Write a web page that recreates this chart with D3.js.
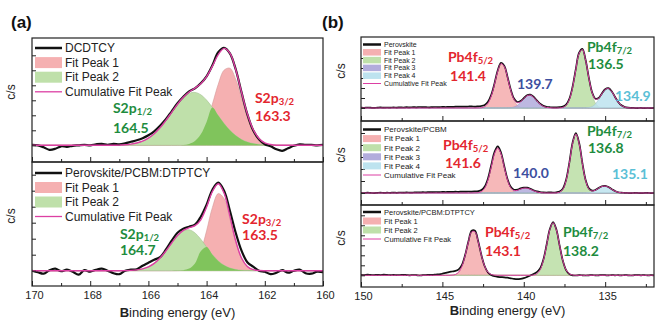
<!DOCTYPE html>
<html>
<head>
<meta charset="utf-8">
<script src="https://cdn.jsdelivr.net/npm/d3@7"></script>
<style>
  body { margin: 0; background: #fff; }
  svg { display: block; font-family: "Liberation Sans", Arial, sans-serif; }
</style>
</head>
<body>
<svg id="chart" width="666" height="332"></svg>
<script>
// binding energy grids (eV), read every 0.2 eV
const sEnergy = d3.range(51).map(i => +(170 - i * 0.2).toFixed(1));
const pbEnergy = d3.range(91).map(i => +(150 - i * 0.2).toFixed(1));

// (a) top: DCDTCY, S2p region (170 -> 160 eV)
const dcdtcyData = [
  0.5, 0, -2, -4.5, -3.5, -1, -1.5, -0.5, 0, 0.5,
  0, 1, 1.5, 0.5, 1.5, 1, 2, 3.5, 5, 7,
  10, 14, 19.5, 26, 34, 42, 48.5, 54, 57, 62,
  69, 80, 93, 97.5, 92, 76, 53, 31, 15, 6,
  1, -1, -4, -5.5, -3, -0.5, 1, 0.5, 0.5, 0,
  0.5];
const dcdtcyPeak1 = [
  0, 0, 0, 0, 0, 0, 0, 0, 0, 0,
  0, 0, 0, 0, 0, 0, 0, 0, 0, 0,
  0, 0, 0, 0, 0, 0.1, 0.4, 1.4, 4.3, 11.0,
  23.4, 41.3, 61.0, 75.1, 77.1, 66.1, 47.3, 28.2, 14.1, 5.9,
  2.0, 0.6, 0.1, 0, 0, 0, 0, 0, 0, 0,
  0];
const dcdtcyPeak2 = [
  0, 0, 0, 0, 0, 0, 0, 0, 0, 0,
  0, 0, 0, 0, 0, 0.2, 0.5, 1.2, 2.3, 4.1,
  7.2, 11.6, 17.5, 24.9, 33.0, 41.0, 47.6, 51.9, 52.9, 50.6,
  45.2, 37.8, 29.7, 21.8, 15.0, 9.7, 5.8, 3.3, 1.7, 0.9,
  0.4, 0.2, 0, 0, 0, 0, 0, 0, 0, 0,
  0];

// (a) bottom: Perovskite/PCBM:DTPTCY, S2p region
const dtptcyS2pData = [
  0, -1.5, -3, 0.5, 2, -0.5, 1, -1, -4, 0.5,
  -1, 1, 2, 0, -2.5, -3.5, 0, 1, 1.5, 5,
  8, 11, 13.5, 21, 30, 38, 42, 44, 46, 54,
  66, 81, 88, 80, 60, 38, 20, 8.5, 4, 0,
  -1, -3.5, -2, 0.5, -2, 0, 1, -2.5, -3, -1,
  -1.5];
const dtptcyS2pPeak1 = [
  0, 0, 0, 0, 0, 0, 0, 0, 0, 0,
  0, 0, 0, 0, 0, 0, 0, 0, 0, 0,
  0, 0, 0, 0, 0, 0.1, 0.5, 2.1, 7.2, 19.4,
  39.9, 63.2, 77.1, 72.2, 51.9, 28.7, 12.2, 4.0, 1.0, 0.2,
  0, 0, 0, 0, 0, 0, 0, 0, 0, 0,
  0];
const dtptcyS2pPeak2 = [
  0, 0, 0, 0, 0, 0, 0, 0, 0, 0,
  0, 0, 0, 0, 0, 0, 0.1, 0.3, 0.8, 1.8,
  3.8, 7.3, 12.7, 19.7, 27.7, 35.0, 39.8, 40.9, 37.8, 31.5,
  23.7, 16.0, 9.8, 5.4, 2.7, 1.2, 0.5, 0.2, 0, 0,
  0, 0, 0, 0, 0, 0, 0, 0, 0, 0,
  0];

// (b) top: Perovskite, Pb4f region (150 -> 132 eV)
const perovskiteData = [
  0.3, 0.2, 0.5, 0.3, 0.1, 0.4, 0.6, 0.3, 0.5, 0.4,
  0.6, 0.4, 0.7, 0.5, 0.8, 0.6, 0.9, 0.7, 1.0, 0.8,
  0.8, 0.7, 0.9, 1.0, 0.9, 1.1, 1.0, 1.2, 1.1, 1.3,
  1.3, 1.4, 1.3, 1.5, 1.6, 1.4, 1.7, 2.0, 3.0, 6.2,
  13.2, 24.6, 37.8, 45.2, 42.4, 31.3, 18.5, 9.5, 6.0, 6.9,
  9.9, 12.8, 13.3, 11.3, 7.7, 4.3, 2.2, 1.1, 0.8, 0.6,
  0.7, 0.9, 1.4, 3.3, 9.2, 21.5, 39.4, 55.4, 59.2, 48.0,
  30.2, 15.6, 9.3, 10.0, 14.6, 18.8, 19.9, 16.8, 11.3, 6.1,
  2.7, 1.0, 0.3, 0.1, 0, -0.1, 0.1, -0.2, 0, -0.1,
  0.1];
const perovskitePeak1 = [
  0, 0, 0, 0, 0, 0, 0, 0, 0, 0,
  0, 0, 0, 0, 0, 0, 0, 0, 0, 0,
  0, 0, 0, 0, 0, 0, 0, 0, 0, 0,
  0, 0, 0, 0, 0, 0, 0.1, 0.3, 1.4, 4.7,
  11.9, 23.7, 36.8, 44.3, 41.7, 30.5, 17.4, 7.7, 2.7, 0.7,
  0.2, 0, 0, 0, 0, 0, 0, 0, 0, 0,
  0, 0, 0, 0, 0, 0, 0, 0, 0, 0,
  0, 0, 0, 0, 0, 0, 0, 0, 0, 0,
  0, 0, 0, 0, 0, 0, 0, 0, 0, 0,
  0];
const perovskitePeak2 = [
  0, 0, 0, 0, 0, 0, 0, 0, 0, 0,
  0, 0, 0, 0, 0, 0, 0, 0, 0, 0,
  0, 0, 0, 0, 0, 0, 0, 0, 0, 0,
  0, 0, 0, 0, 0, 0, 0, 0, 0, 0,
  0, 0, 0, 0, 0, 0, 0, 0, 0, 0,
  0, 0, 0, 0, 0, 0, 0, 0, 0, 0,
  0, 0.1, 0.6, 2.6, 8.4, 20.7, 38.6, 54.6, 58.5, 47.5,
  29.3, 13.7, 4.8, 1.3, 0.3, 0, 0, 0, 0, 0,
  0, 0, 0, 0, 0, 0, 0, 0, 0, 0,
  0];
const perovskitePeak3 = [
  0, 0, 0, 0, 0, 0, 0, 0, 0, 0,
  0, 0, 0, 0, 0, 0, 0, 0, 0, 0,
  0, 0, 0, 0, 0, 0, 0, 0, 0, 0,
  0, 0, 0, 0, 0, 0, 0, 0, 0, 0,
  0, 0, 0, 0, 0, 0.1, 0.3, 1.0, 2.6, 5.5,
  9.2, 12.2, 12.9, 10.9, 7.3, 3.9, 1.7, 0.6, 0.2, 0,
  0, 0, 0, 0, 0, 0, 0, 0, 0, 0,
  0, 0, 0, 0, 0, 0, 0, 0, 0, 0,
  0, 0, 0, 0, 0, 0, 0, 0, 0, 0,
  0];
const perovskitePeak4 = [
  0, 0, 0, 0, 0, 0, 0, 0, 0, 0,
  0, 0, 0, 0, 0, 0, 0, 0, 0, 0,
  0, 0, 0, 0, 0, 0, 0, 0, 0, 0,
  0, 0, 0, 0, 0, 0, 0, 0, 0, 0,
  0, 0, 0, 0, 0, 0, 0, 0, 0, 0,
  0, 0, 0, 0, 0, 0, 0, 0, 0, 0,
  0, 0, 0, 0, 0, 0, 0, 0, 0, 0.1,
  0.5, 1.5, 4.0, 8.4, 13.9, 18.5, 19.6, 16.5, 11.1, 5.9,
  2.5, 0.9, 0.2, 0, 0, 0, 0, 0, 0, 0,
  0];

// (b) middle: Perovskite/PCBM
const pcbmData = [
  0.2, 0, 0.3, 0.1, -0.1, 0.2, 0.4, 0.1, 0.3, 0.2,
  0.4, 0.2, 0.5, 0.3, 0.6, 0.4, 0.5, 0.7, 0.6, 0.8,
  0.7, 0.9, 0.8, 1.0, 0.9, 1.1, 1.0, 1.2, 1.1, 1.3,
  1.2, 1.4, 1.3, 1.5, 1.4, 1.6, 1.9, 3.0, 6.5, 14.6,
  27.8, 41.0, 46.6, 40.5, 27.0, 14.0, 6.2, 3.3, 3.3, 4.6,
  5.4, 5.4, 4.3, 2.8, 1.6, 0.9, 0.6, 0.5, 0.6, 0.5,
  0.7, 1.4, 4.4, 13.2, 30.4, 50.5, 59.8, 50.3, 30.1, 13.0,
  4.6, 2.4, 3.1, 5.1, 6.8, 7.1, 6.0, 3.9, 2.0, 0.8,
  0.3, 0.2, 0, -0.1, 0.1, 0, -0.2, 0, 0.1, -0.1,
  0];
const pcbmPeak1 = [
  0, 0, 0, 0, 0, 0, 0, 0, 0, 0,
  0, 0, 0, 0, 0, 0, 0, 0, 0, 0,
  0, 0, 0, 0, 0, 0, 0, 0, 0, 0,
  0, 0, 0, 0, 0, 0.1, 0.3, 1.4, 4.9, 12.9,
  25.9, 39.2, 45.0, 39.2, 25.9, 12.9, 4.9, 1.4, 0.3, 0.1,
  0, 0, 0, 0, 0, 0, 0, 0, 0, 0,
  0, 0, 0, 0, 0, 0, 0, 0, 0, 0,
  0, 0, 0, 0, 0, 0, 0, 0, 0, 0,
  0, 0, 0, 0, 0, 0, 0, 0, 0, 0,
  0];
const pcbmPeak2 = [
  0, 0, 0, 0, 0, 0, 0, 0, 0, 0,
  0, 0, 0, 0, 0, 0, 0, 0, 0, 0,
  0, 0, 0, 0, 0, 0, 0, 0, 0, 0,
  0, 0, 0, 0, 0, 0, 0, 0, 0, 0,
  0, 0, 0, 0, 0, 0, 0, 0, 0, 0,
  0, 0, 0, 0, 0, 0, 0, 0, 0, 0,
  0.1, 0.8, 3.7, 12.4, 29.5, 49.6, 59.0, 49.6, 29.5, 12.4,
  3.7, 0.8, 0.1, 0, 0, 0, 0, 0, 0, 0,
  0, 0, 0, 0, 0, 0, 0, 0, 0, 0,
  0];
const pcbmPeak3 = [
  0, 0, 0, 0, 0, 0, 0, 0, 0, 0,
  0, 0, 0, 0, 0, 0, 0, 0, 0, 0,
  0, 0, 0, 0, 0, 0, 0, 0, 0, 0,
  0, 0, 0, 0, 0, 0, 0, 0, 0, 0,
  0, 0, 0, 0, 0, 0.1, 0.4, 1.1, 2.3, 3.8,
  4.8, 4.8, 3.8, 2.3, 1.1, 0.4, 0.1, 0, 0, 0,
  0, 0, 0, 0, 0, 0, 0, 0, 0, 0,
  0, 0, 0, 0, 0, 0, 0, 0, 0, 0,
  0, 0, 0, 0, 0, 0, 0, 0, 0, 0,
  0];
const pcbmPeak4 = [
  0, 0, 0, 0, 0, 0, 0, 0, 0, 0,
  0, 0, 0, 0, 0, 0, 0, 0, 0, 0,
  0, 0, 0, 0, 0, 0, 0, 0, 0, 0,
  0, 0, 0, 0, 0, 0, 0, 0, 0, 0,
  0, 0, 0, 0, 0, 0, 0, 0, 0, 0,
  0, 0, 0, 0, 0, 0, 0, 0, 0, 0,
  0, 0, 0, 0, 0, 0, 0, 0, 0, 0.1,
  0.4, 1.2, 2.7, 4.8, 6.5, 6.9, 5.8, 3.7, 1.9, 0.7,
  0.2, 0.1, 0, 0, 0, 0, 0, 0, 0, 0,
  0];

// (b) bottom: Perovskite/PCBM:DTPTCY
const dtptcyPbData = [
  0.5, 0.3, 0.6, 0.4, 0.2, 0.5, 0.3, 0.6, 0.4, 0.2,
  0.4, 0.1, 0.3, 0.5, 0.2, 0, 0.3, 0.1, -0.2, 0.1,
  0.3, 0.5, 0.4, 0.8, 1.0, 1.6, 2.4, 3.2, 3.8, 4.4,
  6.0, 10.5, 20.5, 34.0, 44.5, 44.5, 34.0, 20.0, 9.0, 2.8,
  0.2, -1.0, -1.6, -1.8, -2.0, -2.4, -3.0, -3.6, -3.9, -3.6,
  -2.8, -1.6, -0.2, 1.4, 3.2, 6.8, 15.5, 30.5, 46.2, 53.2,
  46.0, 30.0, 14.6, 5.2, 1.2, 0, -0.2, 0.1, 0, -0.2,
  0, 0.2, -0.1, 0, 0.3, 0.1, -0.1, 0.2, 0, 0.1,
  -0.1, 0.2, 0, -0.2, 0.1, 0.3, 0, 0.2, -0.1, 0.1,
  0];
const dtptcyPbPeak1 = [
  0, 0, 0, 0, 0, 0, 0, 0, 0, 0,
  0, 0, 0, 0, 0, 0, 0, 0, 0, 0,
  0, 0, 0, 0, 0, 0, 0, 0, 0.2, 0.8,
  3.1, 9.0, 19.8, 33.5, 43.5, 43.5, 33.5, 19.8, 9.0, 3.1,
  0.8, 0.2, 0, 0, 0, 0, 0, 0, 0, 0,
  0, 0, 0, 0, 0, 0, 0, 0, 0, 0,
  0, 0, 0, 0, 0, 0, 0, 0, 0, 0,
  0, 0, 0, 0, 0, 0, 0, 0, 0, 0,
  0, 0, 0, 0, 0, 0, 0, 0, 0, 0,
  0];
const dtptcyPbPeak2 = [
  0, 0, 0, 0, 0, 0, 0, 0, 0, 0,
  0, 0, 0, 0, 0, 0, 0, 0, 0, 0,
  0, 0, 0, 0, 0, 0, 0, 0, 0, 0,
  0, 0, 0, 0, 0, 0, 0, 0, 0, 0,
  0, 0, 0, 0, 0, 0, 0, 0, 0, 0,
  0, 0, 0, 0.3, 1.5, 5.4, 14.6, 29.8, 45.6, 52.6,
  45.6, 29.8, 14.6, 5.4, 1.5, 0.3, 0, 0, 0, 0,
  0, 0, 0, 0, 0, 0, 0, 0, 0, 0,
  0, 0, 0, 0, 0, 0, 0, 0, 0, 0,
  0];

// axis ticks
const sMajorTicks = [170, 168, 166, 164, 162, 160];
const sMinorTicks = [169, 167, 165, 163, 161];
const pbMajorTicks = [150, 145, 140, 135];
const pbMinorTicks = [147.5, 142.5, 137.5, 132.5];

// legend texts
const legendDcdtcy = ["DCDTCY", "Fit Peak 1", "Fit Peak 2", "Cumulative Fit Peak"];
const legendDtptcyS = ["Perovskite/PCBM:DTPTCY", "Fit Peak 1", "Fit Peak 2", "Cumulative Fit Peak"];
const legendPerovskite = ["Perovskite", "Fit Peak 1", "Fit Peak 2", "Fit Peak 3", "Fit Peak 4", "Cumulative Fit Peak"];
const legendPcbm = ["Perovskite/PCBM", "Fit Peak 1", "Fit Peak 2", "Fit Peak 3", "Fit Peak 4", "Cumulative Fit Peak"];
const legendDtptcyPb = ["Perovskite/PCBM:DTPTCY", "Fit Peak 1", "Fit Peak 2", "Cumulative Fit Peak"];

// colours
const RED = "#e3262e", GREEN = "#1e8c3e", BLUE = "#3d4f9f", CYAN = "#5bbfd6";
const fillRed = "#f5b0b1", fillGreen = "#bfe0aa", fillPurple = "#b2acdc", fillCyan = "#bde3ef";
const overlapGreen = "#80c45c";
const PINK = "#dc3fa3";

const svg = d3.select("#chart");
const defs = svg.append("defs");

const leftX = d3.scaleLinear().domain([170, 160]).range([32, 323]);
const rightX = d3.scaleLinear().domain([150, 132]).range([361, 654]);

function drawPanel(p) {
  const x = p.x;
  const y = d3.scaleLinear().domain(p.yDomain).range([p.y1, p.y0]);
  const [x0, x1] = x.range();
  const g = svg.append("g");

  defs.append("clipPath").attr("id", "clip-" + p.id)
    .append("rect")
    .attr("x", x0).attr("y", p.y0)
    .attr("width", x1 - x0).attr("height", p.y1 - p.y0);

  const plot = g.append("g").attr("clip-path", `url(#clip-${p.id})`);

  const areaGen = d3.area()
    .x((d, i) => x(p.energy[i]))
    .y0(y(0))
    .y1(d => y(d))
    .curve(d3.curveCatmullRom);
  const lineGen = d3.line()
    .x((d, i) => x(p.energy[i]))
    .y(d => y(d))
    .curve(d3.curveCatmullRom);

  p.peaks.forEach(pk => {
    plot.append("path")
      .datum(pk.values)
      .attr("d", areaGen)
      .attr("fill", pk.fill)
      .attr("fill-opacity", pk.opacity || 1)
      .attr("stroke", d3.color(pk.fill).darker(0.4))
      .attr("stroke-width", 0.6);
  });

  // overlapping part of the two S2p components
  if (p.overlap) {
    const ov = p.energy.map((e, i) => Math.min(p.peaks[0].values[i], p.peaks[1].values[i]));
    plot.append("path").datum(ov)
      .attr("d", areaGen)
      .attr("fill", p.overlap);
  }

  // cumulative fit = sum of the fitted components
  const cumulative = p.energy.map((e, i) => d3.sum(p.peaks, pk => pk.values[i]));

  plot.append("path").datum(p.data)
    .attr("d", lineGen)
    .attr("fill", "none")
    .attr("stroke", "#111")
    .attr("stroke-width", p.dataWidth);

  plot.append("path").datum(cumulative)
    .attr("d", lineGen)
    .attr("fill", "none")
    .attr("stroke", PINK)
    .attr("stroke-width", p.fitWidth);

  // ticks, pointing inward
  g.append("g").attr("transform", `translate(0,${p.y1})`)
    .call(d3.axisTop(x).tickValues(p.majorTicks).tickSize(5).tickFormat(""))
    .call(a => a.select(".domain").remove());
  g.append("g").attr("transform", `translate(0,${p.y1})`)
    .call(d3.axisTop(x).tickValues(p.minorTicks).tickSize(3).tickFormat(""))
    .call(a => a.select(".domain").remove());
  g.append("g").attr("transform", `translate(${x0},0)`)
    .call(d3.axisRight(y).tickValues(p.yTicks).tickSize(4).tickFormat(""))
    .call(a => a.select(".domain").remove());
  g.selectAll(".tick line").attr("stroke", "#222");

  g.append("rect")
    .attr("x", x0).attr("y", p.y0)
    .attr("width", x1 - x0).attr("height", p.y1 - p.y0)
    .attr("fill", "none")
    .attr("stroke", "#222")
    .attr("stroke-width", 1.2);

  if (p.tickLabels) {
    g.append("g").attr("transform", `translate(0,${p.y1})`)
      .call(d3.axisBottom(x).tickValues(p.majorTicks).tickSize(0).tickPadding(5))
      .call(a => a.select(".domain").remove())
      .call(a => a.selectAll("text")
        .attr("font-family", "Liberation Sans, Arial, sans-serif")
        .attr("font-size", 11)
        .attr("fill", "#222")
        .attr("dx", 2));
  }

  // c/s label
  g.append("text")
    .attr("transform", `translate(${p.yLabelX},${(p.y0 + p.y1) / 2 - 8}) rotate(-90)`)
    .attr("text-anchor", "middle")
    .attr("font-size", 12)
    .attr("fill", "#222")
    .text("c/s");

  // legend
  const L = p.legend;
  const lg = g.append("g");
  L.labels.forEach((label, i) => {
    const cy = p.y0 + L.first + i * L.rowH;
    const item = L.items[i];
    if (item.type === "line") {
      lg.append("line")
        .attr("x1", L.x).attr("x2", L.x + L.w)
        .attr("y1", cy).attr("y2", cy)
        .attr("stroke", item.color)
        .attr("stroke-width", item.width);
    } else {
      lg.append("rect")
        .attr("x", L.x).attr("y", cy - L.h / 2)
        .attr("width", L.w).attr("height", L.h)
        .attr("fill", item.fill);
    }
    lg.append("text")
      .attr("x", L.x + L.w + 3)
      .attr("y", cy)
      .attr("dy", "0.35em")
      .attr("font-size", L.fontSize)
      .attr("fill", "#222")
      .text(label);
  });

  // peak annotations
  p.notes.forEach(n => {
    const t = g.append("text")
      .attr("x", x(n.e)).attr("y", y(n.v))
      .attr("fill", n.color)
      .attr("font-family", "Lato, 'Open Sans', sans-serif")
      .attr("font-weight", "bold")
      .attr("font-size", 14)
      .text(n.text);
    if (n.sub) t.append("tspan").attr("font-size", 9.5).attr("dy", 2).text(n.sub);
  });
}

const sLegendItems = [
  { type: "line", color: "#111", width: 2.5 },
  { type: "rect", fill: fillRed },
  { type: "rect", fill: fillGreen },
  { type: "line", color: PINK, width: 1.3 }
];
const pbLegendItems4 = [
  { type: "line", color: "#111", width: 2.5 },
  { type: "rect", fill: fillRed },
  { type: "rect", fill: fillGreen },
  { type: "rect", fill: fillPurple },
  { type: "rect", fill: fillCyan },
  { type: "line", color: PINK, width: 1 }
];
const pbLegendItems2 = [
  { type: "line", color: "#111", width: 2.5 },
  { type: "rect", fill: fillRed },
  { type: "rect", fill: fillGreen },
  { type: "line", color: PINK, width: 1 }
];

// (a) S2p panels
drawPanel({
  id: "a1", x: leftX, energy: sEnergy, y0: 38, y1: 162, yDomain: [-16.7, 107.3],
  data: dcdtcyData, dataWidth: 2.2, fitWidth: 1.4,
  peaks: [{ values: dcdtcyPeak1, fill: fillRed }, { values: dcdtcyPeak2, fill: fillGreen }],
  overlap: overlapGreen,
  majorTicks: sMajorTicks, minorTicks: sMinorTicks, yTicks: d3.range(0, 91, 15),
  yLabelX: 15,
  legend: { x: 35, w: 27, h: 11, first: 10, rowH: 14.6, fontSize: 12, labels: legendDcdtcy, items: sLegendItems },
  notes: [
    { e: 167.22, v: 32.3, text: "S2p", sub: "1/2", color: GREEN },
    { e: 167.22, v: 12.3, text: "164.5", color: GREEN },
    { e: 162.34, v: 42, text: "S2p", sub: "3/2", color: RED },
    { e: 162.34, v: 24.3, text: "163.3", color: RED }
  ]
});
drawPanel({
  id: "a2", x: leftX, energy: sEnergy, y0: 162, y1: 286, yDomain: [-15.3, 108.7],
  data: dtptcyS2pData, dataWidth: 2.2, fitWidth: 1.4,
  peaks: [{ values: dtptcyS2pPeak1, fill: fillRed }, { values: dtptcyS2pPeak2, fill: fillGreen }],
  overlap: overlapGreen,
  majorTicks: sMajorTicks, minorTicks: sMinorTicks, yTicks: d3.range(0, 97, 16),
  tickLabels: true, yLabelX: 15,
  legend: { x: 35, w: 27, h: 11, first: 11, rowH: 14.5, fontSize: 12, labels: legendDtptcyS, items: sLegendItems },
  notes: [
    { e: 166.98, v: 32, text: "S2p", sub: "1/2", color: GREEN },
    { e: 166.98, v: 15.5, text: "164.7", color: GREEN },
    { e: 162.78, v: 47, text: "S2p", sub: "3/2", color: RED },
    { e: 162.78, v: 30.5, text: "163.5", color: RED }
  ]
});

// (b) Pb4f panels
drawPanel({
  id: "b1", x: rightX, energy: pbEnergy, y0: 37, y1: 121, yDomain: [-13, 71],
  data: perovskiteData, dataWidth: 1.7, fitWidth: 1,
  peaks: [
    { values: perovskitePeak1, fill: fillRed, opacity: 0.9 },
    { values: perovskitePeak2, fill: fillGreen, opacity: 0.9 },
    { values: perovskitePeak3, fill: fillPurple, opacity: 0.85 },
    { values: perovskitePeak4, fill: fillCyan, opacity: 0.85 }
  ],
  majorTicks: pbMajorTicks, minorTicks: pbMinorTicks, yTicks: d3.range(0, 51, 10),
  yLabelX: 345,
  legend: { x: 363, w: 18, h: 6.5, first: 7.5, rowH: 7.8, fontSize: 7, labels: legendPerovskite, items: pbLegendItems4 },
  notes: [
    { e: 144.66, v: 46.2, text: "Pb4f", sub: "5/2", color: RED },
    { e: 144.53, v: 27, text: "141.4", color: RED },
    { e: 140.42, v: 19, text: "139.7", color: BLUE },
    { e: 136.12, v: 56.2, text: "Pb4f", sub: "7/2", color: GREEN },
    { e: 136.06, v: 38.7, text: "136.5", color: GREEN },
    { e: 134.4, v: 7.3, text: "134.9", color: CYAN }
  ]
});
drawPanel({
  id: "b2", x: rightX, energy: pbEnergy, y0: 121, y1: 205, yDomain: [-12, 72],
  data: pcbmData, dataWidth: 1.7, fitWidth: 1,
  peaks: [
    { values: pcbmPeak1, fill: fillRed, opacity: 0.9 },
    { values: pcbmPeak2, fill: fillGreen, opacity: 0.9 },
    { values: pcbmPeak3, fill: fillPurple, opacity: 0.85 },
    { values: pcbmPeak4, fill: fillCyan, opacity: 0.85 }
  ],
  majorTicks: pbMajorTicks, minorTicks: pbMinorTicks, yTicks: d3.range(0, 61, 12),
  yLabelX: 345,
  legend: { x: 363, w: 18, h: 7, first: 8.5, rowH: 9.1, fontSize: 8, labels: legendPcbm, items: pbLegendItems4 },
  notes: [
    { e: 144.96, v: 42.7, text: "Pb4f", sub: "5/2", color: RED },
    { e: 144.84, v: 25.2, text: "141.6", color: RED },
    { e: 140.66, v: 15, text: "140.0", color: BLUE },
    { e: 136.12, v: 57.2, text: "Pb4f", sub: "7/2", color: GREEN },
    { e: 136.06, v: 39.7, text: "136.8", color: GREEN },
    { e: 134.58, v: 14.3, text: "135.1", color: CYAN }
  ]
});
drawPanel({
  id: "b3", x: rightX, energy: pbEnergy, y0: 205, y1: 287, yDomain: [-11.7, 70.3],
  data: dtptcyPbData, dataWidth: 1.7, fitWidth: 1,
  peaks: [
    { values: dtptcyPbPeak1, fill: fillRed, opacity: 0.9 },
    { values: dtptcyPbPeak2, fill: fillGreen, opacity: 0.9 }
  ],
  majorTicks: pbMajorTicks, minorTicks: pbMinorTicks, yTicks: d3.range(0, 61, 10),
  tickLabels: true, yLabelX: 345,
  legend: { x: 363, w: 18, h: 7, first: 7, rowH: 9, fontSize: 7.5, labels: legendDtptcyPb, items: pbLegendItems2 },
  notes: [
    { e: 142.38, v: 38.8, text: "Pb4f", sub: "5/2", color: RED },
    { e: 142.38, v: 19.7, text: "143.1", color: RED },
    { e: 137.59, v: 38.8, text: "Pb4f", sub: "7/2", color: GREEN },
    { e: 137.59, v: 19.7, text: "138.2", color: GREEN }
  ]
});

// axis titles
[[leftX, 317], [rightX, 315]].forEach(([x, yy]) => {
  const t = svg.append("text")
    .attr("x", (x.range()[0] + x.range()[1]) / 2)
    .attr("y", yy)
    .attr("text-anchor", "middle")
    .attr("font-size", 13)
    .attr("fill", "#222");
  t.append("tspan").attr("font-weight", "bold").text("B");
  t.append("tspan").text("inding energy (eV)");
});

// panel letters
svg.append("text").attr("x", 11).attr("y", 28)
  .attr("font-size", 17).attr("font-weight", "bold").attr("fill", "#111").text("(a)");
svg.append("text").attr("x", 322).attr("y", 28)
  .attr("font-size", 17).attr("font-weight", "bold").attr("fill", "#111").text("(b)");
</script>
</body>
</html>
